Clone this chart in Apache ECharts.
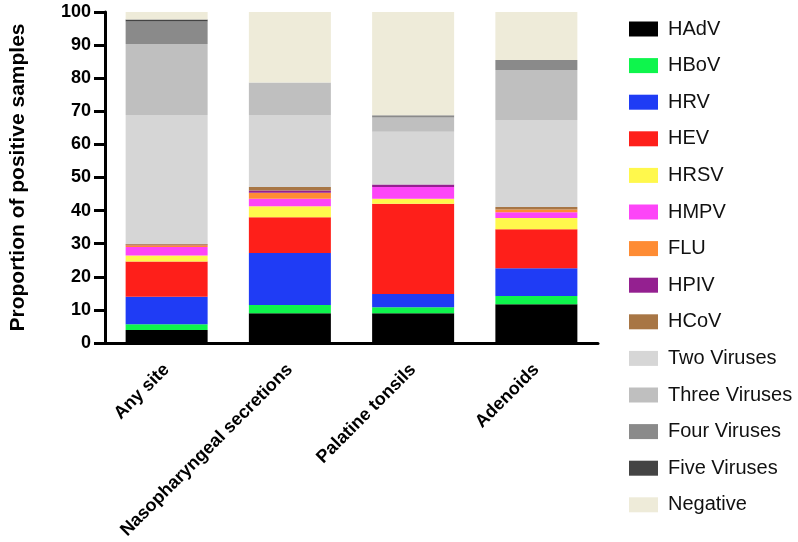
<!DOCTYPE html>
<html>
<head>
<meta charset="utf-8">
<script src="https://cdn.jsdelivr.net/npm/echarts@6/dist/echarts.min.js"></script>
<style>html,body{margin:0;padding:0;background:#fff}#c{width:798px;height:542px}</style>
</head>
<body>
<div id="c"></div>
<script>
const categories = ['Any site', 'Nasopharyngeal secretions', 'Palatine tonsils', 'Adenoids'];
const yTicks = [0, 10, 20, 30, 40, 50, 60, 70, 80, 90, 100];
const seriesNames = ['HAdV','HBoV','HRV','HEV','HRSV','HMPV','FLU','HPIV','HCoV','Two Viruses','Three Viruses','Four Viruses','Five Viruses','Negative'];
const HAdV = [3.9, 9.0, 9.0, 11.7];
const HBoV = [1.8, 2.5, 1.8, 2.5];
const HRV = [8.3, 15.7, 4.0, 8.4];
const HEV = [10.6, 10.8, 27.3, 11.8];
const HRSV = [1.8, 3.3, 1.5, 3.4];
const HMPV = [2.6, 2.3, 3.5, 1.7];
const FLU = [0.5, 1.8, 0, 0.8];
const HPIV = [0.2, 0.7, 0.8, 0];
const HCoV = [0.2, 1.0, 0, 0.8];
const TwoViruses = [39.0, 21.8, 15.9, 26.3];
const ThreeViruses = [21.4, 9.8, 4.3, 15.1];
const FourViruses = [6.8, 0, 0.7, 3.0];
const FiveViruses = [0.6, 0, 0, 0];
const Negative = [2.3, 21.3, 31.2, 14.5];
const seriesValues = [HAdV,HBoV,HRV,HEV,HRSV,HMPV,FLU,HPIV,HCoV,TwoViruses,ThreeViruses,FourViruses,FiveViruses,Negative];
const colors = ['#000000','#0ef54c','#1f3cf5','#fe1f1a','#fff84c','#fd45f8','#fe8c34','#942090','#a87645','#d6d6d6','#bfbfbf','#8a8a8a','#444444','#eeebd9'];

const font = 'Liberation Sans, Arial, Helvetica, sans-serif';
const chart = echarts.init(document.getElementById('c'), null, {renderer: 'canvas'});
chart.setOption({
  animation: false,
  backgroundColor: '#ffffff',
  color: colors,
  grid: {left: 100, right: 200, top: 12, bottom: 199, containLabel: false},
  legend: {
    orient: 'vertical',
    left: 624,
    top: 14,
    itemWidth: 29,
    itemHeight: 15,
    itemGap: 16.6,
    icon: 'rect',
    data: seriesNames,
    textStyle: {fontFamily: font, fontSize: 20, color: '#111', padding: [0,0,0,5]}
  },
  xAxis: {
    type: 'category',
    data: categories,
    axisLine: {lineStyle: {color: '#000', width: 3}},
    axisTick: {alignWithLabel: true, length: 8, lineStyle: {color: '#000', width: 3}},
    axisLabel: {rotate: 45, fontFamily: font, fontSize: 18, fontWeight: 'bold', color: '#000', margin: 24, interval: 0}
  },
  yAxis: {
    type: 'value',
    min: yTicks[0],
    max: yTicks[yTicks.length - 1],
    interval: 10,
    name: 'Proportion of positive samples',
    nameLocation: 'middle',
    nameGap: 76,
    nameTextStyle: {fontFamily: font, fontSize: 21, fontWeight: 'bold', color: '#000'},
    splitLine: {show: false},
    axisLine: {show: true, lineStyle: {color: '#000', width: 3}},
    axisTick: {show: true, length: 11, lineStyle: {color: '#000', width: 3}},
    axisLabel: {fontFamily: font, fontSize: 18, fontWeight: 'bold', color: '#000', margin: 14,
      formatter: v => yTicks.includes(v) ? String(v) : ''}
  },
  series: seriesNames.map((n, i) => ({
    name: n,
    type: 'bar',
    stack: 'total',
    barWidth: 82,
    data: seriesValues[i],
    itemStyle: {color: colors[i]}
  }))
});
</script>
</body>
</html>
